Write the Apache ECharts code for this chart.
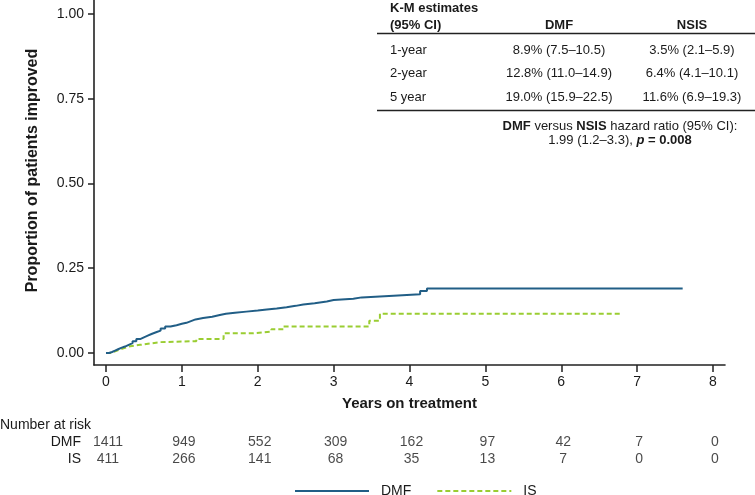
<!DOCTYPE html>
<html>
<head>
<meta charset="utf-8">
<script src="https://cdn.jsdelivr.net/npm/echarts@6/dist/echarts.min.js"></script>
<style>
html,body{margin:0;padding:0;background:#fff;}
#c{width:755px;height:495px;}
</style>
</head>
<body>
<div id="c"></div>
<script>
// ---- data ----
var xTicks = [0, 1, 2, 3, 4, 5, 6, 7, 8];
var yTicks = [0, 0.25, 0.5, 0.75, 1.0];
var dmfCurve = [[0,0],[0.04,0.003],[0.08,0.007],[0.12,0.011],[0.16,0.015],[0.2,0.019],[0.25,0.024],[0.3,0.029],[0.35,0.035],[0.4,0.041],[0.45,0.046],[0.5,0.051],[0.55,0.056],[0.6,0.061],[0.66,0.066],[0.72,0.072],[0.78,0.078],[0.85,0.082],[0.93,0.086],[1.0,0.089],[1.06,0.094],[1.12,0.099],[1.18,0.103],[1.28,0.107],[1.4,0.112],[1.5,0.116],[1.58,0.119],[1.7,0.122],[1.85,0.125],[2.0,0.128],[2.12,0.131],[2.25,0.135],[2.38,0.139],[2.5,0.143],[2.6,0.147],[2.75,0.152],[2.91,0.156],[3.0,0.16],[3.26,0.164],[3.37,0.169],[3.79,0.173],[4.14,0.183],[4.23,0.19],[7.6,0.19]];
var isCurve = [[0,0],[0.06,0.005],[0.12,0.01],[0.18,0.015],[0.25,0.02],[0.32,0.024],[0.45,0.028],[0.58,0.032],[0.71,0.035],[1.19,0.041],[1.55,0.058],[1.92,0.063],[2.18,0.07],[2.34,0.078],[3.47,0.095],[3.61,0.116],[6.79,0.116]];
var riskGroups = ['DMF', 'IS'];
var riskDMF = [1411, 949, 552, 309, 162, 97, 42, 7, 0];
var riskIS = [411, 266, 141, 68, 35, 13, 7, 0, 0];
var tableHeader = ['K-M estimates', '(95% CI)', 'DMF', 'NSIS'];
var tableRowLabels = ['1-year', '2-year', '5 year'];
var tableDMF = ['8.9% (7.5\u201310.5)', '12.8% (11.0\u201314.9)', '19.0% (15.9\u201322.5)'];
var tableNSIS = ['3.5% (2.1\u20135.9)', '6.4% (4.1\u201310.1)', '11.6% (6.9\u201319.3)'];
var hrLine2 = '1.99 (1.2\u20133.3), ';
var pValue = '0.008';

var FONT = 'Liberation Sans, Arial, Helvetica, sans-serif';
var TXT = '#1a1a1a';
var DMF_COLOR = '#215e86';
var IS_COLOR = '#9acd32';

var chart = echarts.init(document.getElementById('c'), null, { renderer: 'canvas' });

var graphics = [];
var colX1 = 390, colX2 = 559, colX3 = 692;
function txt(x, y, s, opts) {
  return {
    type: 'text', x: x, y: y,
    style: Object.assign({ text: s, fontFamily: FONT, fontSize: 13, fill: TXT, textAlign: 'left', textVerticalAlign: 'middle' }, opts || {})
  };
}
graphics.push(txt(colX1, 8, tableHeader[0], { fontWeight: 'bold' }));
graphics.push(txt(colX1, 25, tableHeader[1], { fontWeight: 'bold' }));
graphics.push(txt(colX2, 25, tableHeader[2], { fontWeight: 'bold', textAlign: 'center' }));
graphics.push(txt(colX3, 25, tableHeader[3], { fontWeight: 'bold', textAlign: 'center' }));
var rowY = [50, 73.5, 97.5];
for (var i = 0; i < tableRowLabels.length; i++) {
  graphics.push(txt(colX1, rowY[i], tableRowLabels[i]));
  graphics.push(txt(colX2, rowY[i], tableDMF[i], { textAlign: 'center' }));
  graphics.push(txt(colX3, rowY[i], tableNSIS[i], { textAlign: 'center' }));
}
graphics.push({ type: 'line', shape: { x1: 377, y1: 33.5, x2: 755, y2: 33.5 }, style: { stroke: '#222', lineWidth: 1.6 } });
graphics.push({ type: 'line', shape: { x1: 377, y1: 110.5, x2: 755, y2: 110.5 }, style: { stroke: '#222', lineWidth: 1.6 } });
graphics.push({
  type: 'text', x: 620, y: 126,
  style: {
    rich: { b: { fontWeight: 'bold', fontFamily: FONT, fontSize: 13, fill: TXT }, n: { fontFamily: FONT, fontSize: 13, fill: TXT } },
    text: '{b|DMF}{n| versus }{b|NSIS}{n| hazard ratio (95% CI):}',
    textAlign: 'center', textVerticalAlign: 'middle', fontFamily: FONT, fontSize: 13
  }
});
graphics.push({
  type: 'text', x: 620, y: 140,
  style: {
    rich: { b: { fontWeight: 'bold', fontFamily: FONT, fontSize: 13, fill: TXT }, bi: { fontWeight: 'bold', fontStyle: 'italic', fontFamily: FONT, fontSize: 13, fill: TXT }, n: { fontFamily: FONT, fontSize: 13, fill: TXT } },
    text: '{n|' + hrLine2 + '}{bi|p}{b| = ' + pValue + '}',
    textAlign: 'center', textVerticalAlign: 'middle', fontFamily: FONT, fontSize: 13
  }
});
graphics.push(txt(0, 425, 'Number at risk', { fontSize: 14 }));

var option = {
  animation: false,
  backgroundColor: '#fff',
  textStyle: { fontFamily: FONT, color: TXT },
  grid: [
    { left: 94, right: 30, top: 0, bottom: 130, containLabel: false },
    { left: 94, right: 30, top: 433, height: 35, containLabel: false }
  ],
  legend: {
    left: 289, top: 479,
    itemWidth: 74, itemHeight: 14, itemGap: 25,
    data: ['DMF', 'IS'],
    itemStyle: { color: 'rgba(0,0,0,0)', borderWidth: 0, opacity: 0 },
    textStyle: { fontFamily: FONT, fontSize: 14, color: TXT, padding: [0, 0, 0, 7] }
  },
  xAxis: [
    {
      type: 'value', gridIndex: 0, min: -0.158, max: 8.158,
      name: 'Years on treatment', nameLocation: 'middle', nameGap: 31,
      nameTextStyle: { fontFamily: FONT, fontSize: 15, fontWeight: 'bold', color: TXT },
      axisLine: { onZero: false, lineStyle: { color: '#222', width: 1.6 } },
      axisTick: { show: true, length: 7, customValues: xTicks, lineStyle: { color: '#222', width: 1.5 } },
      axisLabel: { customValues: xTicks, margin: 10, fontSize: 14, color: TXT, fontFamily: FONT },
      splitLine: { show: false }
    },
    {
      type: 'value', gridIndex: 1, min: -0.158, max: 8.158, show: false
    }
  ],
  yAxis: [
    {
      type: 'value', gridIndex: 0, min: -0.0354, max: 1.041,
      name: 'Proportion of patients improved', nameLocation: 'middle', nameGap: 53,
      nameTextStyle: { fontFamily: FONT, fontSize: 16, fontWeight: 'bold', color: TXT, padding: [0, 0, 0, 24] },
      axisLine: { show: true, onZero: false, lineStyle: { color: '#222', width: 1.6 } },
      axisTick: { show: true, length: 6, customValues: yTicks, lineStyle: { color: '#222', width: 1.5 } },
      axisLabel: { customValues: yTicks, margin: 10, fontSize: 14, color: TXT, fontFamily: FONT,
        formatter: function (v) { return v.toFixed(2); } },
      splitLine: { show: false }
    },
    {
      type: 'category', gridIndex: 1, data: riskGroups, inverse: true,
      axisLine: { show: false }, axisTick: { show: false },
      axisLabel: { interval: 0, margin: 13, fontSize: 14, color: TXT, fontFamily: FONT },
      splitLine: { show: false }
    }
  ],
  series: [
    {
      name: 'DMF', type: 'line', xAxisIndex: 0, yAxisIndex: 0, step: 'end',
      data: dmfCurve, symbol: 'none', showSymbol: false, color: DMF_COLOR,
      lineStyle: { color: DMF_COLOR, width: 2 }, z: 3
    },
    {
      name: 'IS', type: 'line', xAxisIndex: 0, yAxisIndex: 0, step: 'end',
      data: isCurve, symbol: 'none', showSymbol: false, color: IS_COLOR,
      lineStyle: { color: IS_COLOR, width: 2, type: [5, 3] }, z: 2
    },
    {
      name: 'riskDMF', type: 'scatter', xAxisIndex: 1, yAxisIndex: 1,
      data: riskDMF.map(function (v, i) { return [xTicks[i], riskGroups[0], v]; }),
      symbolSize: 1, itemStyle: { color: 'rgba(0,0,0,0)' },
      label: { show: true, position: 'inside', offset: [2, 0], fontSize: 14, color: TXT, fontFamily: FONT,
        formatter: function (p) { return String(p.value[2]); } }
    },
    {
      name: 'riskIS', type: 'scatter', xAxisIndex: 1, yAxisIndex: 1,
      data: riskIS.map(function (v, i) { return [xTicks[i], riskGroups[1], v]; }),
      symbolSize: 1, itemStyle: { color: 'rgba(0,0,0,0)' },
      label: { show: true, position: 'inside', offset: [2, 0], fontSize: 14, color: TXT, fontFamily: FONT,
        formatter: function (p) { return String(p.value[2]); } }
    }
  ],
  graphic: graphics
};
chart.setOption(option);
</script>
</body>
</html>
